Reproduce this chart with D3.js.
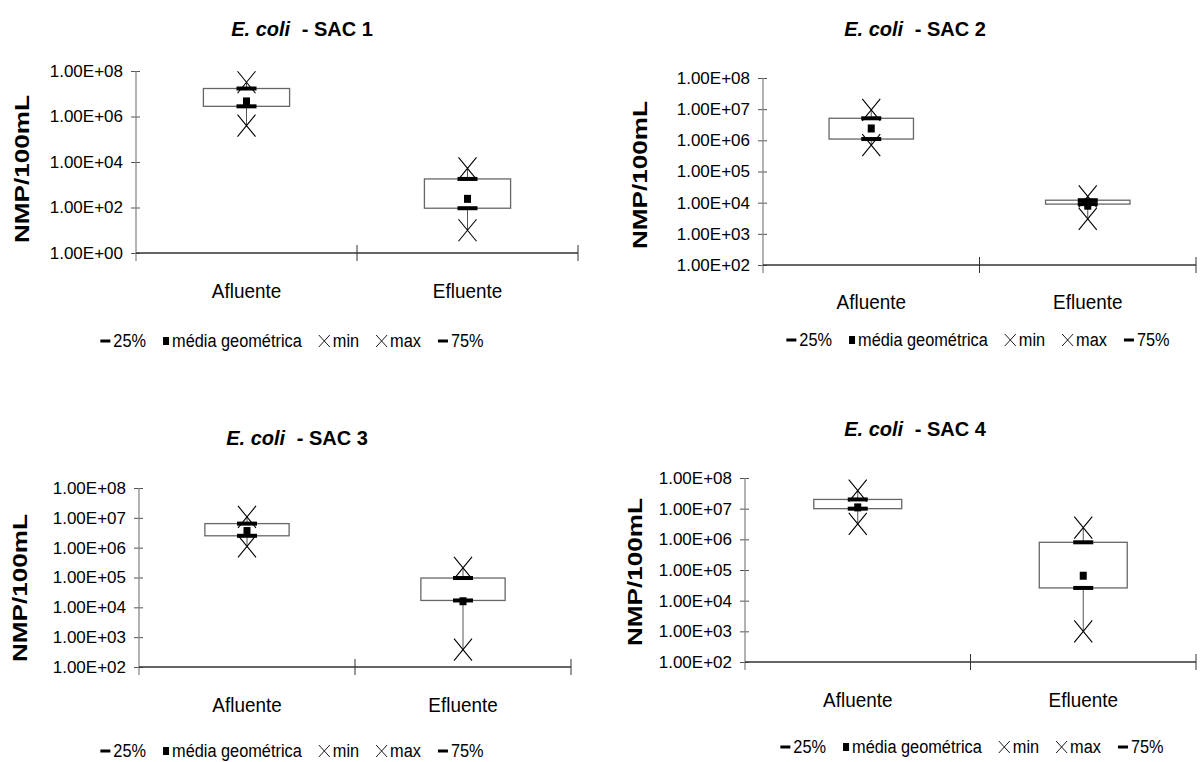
<!DOCTYPE html>
<html>
<head>
<meta charset="utf-8">
<script src="https://cdn.jsdelivr.net/npm/d3@7"></script>
<style>
  body { margin: 0; background: #fff; }
  svg { display: block; font-family: "Liberation Sans", Arial, sans-serif; }
</style>
</head>
<body>
<div id="chart"></div>
<script>
// data (NMP/100mL), one row per SAC, [Afluente, Efluente]
const categories = ['Afluente', 'Efluente'];
const sacNames = ['SAC 1', 'SAC 2', 'SAC 3', 'SAC 4'];
const q25     = [[2.8e6, 93],    [1.1e6, 9.0e3], [2.5e6, 1.7e4], [1.0e7, 2.6e4]];
const geoMean = [[4.6e6, 240],   [2.4e6, 8.0e3], [3.6e6, 1.6e4], [1.1e7, 6.5e4]];
const minVal  = [[4.0e5, 10],    [7.0e5, 3.0e3], [1.1e6, 380],   [3.2e6, 1.0e3]];
const maxVal  = [[3.2e7, 5.2e3], [9.5e6, 1.6e4], [1.07e7, 2.1e5], [3.9e7, 2.4e6]];
const q75     = [[1.7e7, 1.8e3], [5.1e6, 1.2e4], [6.4e6, 9.6e4], [2.0e7, 8.0e5]];
const yTicks = [
  [1, 1e2, 1e4, 1e6, 1e8],
  [1e2, 1e3, 1e4, 1e5, 1e6, 1e7, 1e8],
  [1e2, 1e3, 1e4, 1e5, 1e6, 1e7, 1e8],
  [1e2, 1e3, 1e4, 1e5, 1e6, 1e7, 1e8]
];
const legendLabels = ['25%', 'média geométrica', 'min', 'max', '75%'];
const legendKinds = ['dash', 'square', 'x', 'x', 'dash'];
const yTitle = 'NMP/100mL';

// where each little chart sits on the page
const panels = [
  {x0: 136, x1: 578, yTop: 71,  yBot: 253, titleX: 302, titleY: 36,  catY: 298, legX: 292, legY: 347, labX: 21,  labY: 169},
  {x0: 763, x1: 1196, yTop: 78, yBot: 265, titleX: 915, titleY: 36,  catY: 309, legX: 978, legY: 346, labX: 639, labY: 175},
  {x0: 139, x1: 571, yTop: 488, yBot: 667, titleX: 297, titleY: 445, catY: 712, legX: 292, legY: 757, labX: 19,  labY: 588},
  {x0: 745, x1: 1196, yTop: 478, yBot: 662, titleX: 915, titleY: 436, catY: 707, legX: 972, legY: 753, labX: 634, labY: 572}
];

const W = 1200, H = 762;
const svg = d3.select('#chart').append('svg')
  .attr('width', W).attr('height', H)
  .style('background', 'white');

const fmtSci = v => '1.00E+' + String(Math.round(Math.log10(v))).padStart(2, '0');

// text squeezed horizontally, like the narrow font of the original
function narrowText(g, x, y, str, size, sx, anchor) {
  return g.append('text')
    .attr('transform', `translate(${x},${y}) scale(${sx},1)`)
    .attr('text-anchor', anchor || 'middle')
    .style('font-size', size + 'px')
    .text(str);
}

function drawMarker(g, kind, cx, cy, big) {
  if (kind === 'dash') {
    const w = big ? 20 : 10, h = big ? 4 : 3;
    g.append('rect').attr('x', cx - w / 2).attr('y', cy - h / 2)
      .attr('width', w).attr('height', h).attr('fill', '#000');
  } else if (kind === 'square') {
    const w = big ? 7 : 6, h = big ? 8 : 8;
    g.append('rect').attr('x', cx - w / 2).attr('y', cy - h / 2)
      .attr('width', w).attr('height', h).attr('fill', '#000');
  } else {
    const hw = big ? 9 : 5.5, hh = big ? 11 : 6;
    g.append('path')
      .attr('d', `M${cx - hw},${cy - hh}L${cx + hw},${cy + hh}M${cx - hw},${cy + hh}L${cx + hw},${cy - hh}`)
      .attr('stroke', '#000').attr('stroke-width', big ? 1.1 : 0.9).attr('fill', 'none');
  }
}

panels.forEach((p, i) => {
  const g = svg.append('g').attr('class', 'panel');
  const ticks = yTicks[i];

  const y = d3.scaleLog().domain([ticks[0], ticks[ticks.length - 1]]).range([p.yBot, p.yTop]);
  const x = d3.scaleBand().domain(categories).range([p.x0, p.x1]);

  // title
  const t = g.append('text')
    .attr('x', p.titleX).attr('y', p.titleY)
    .attr('text-anchor', 'middle')
    .style('font-size', '20px').style('font-weight', 'bold');
  t.append('tspan').style('font-style', 'italic').text('E. coli');
  t.append('tspan').attr('dx', 6).text(' - ' + sacNames[i]);

  // y axis
  const yAxis = d3.axisLeft(y).tickValues(ticks).tickFormat(fmtSci).tickSize(5).tickPadding(8);
  const ya = g.append('g').attr('transform', `translate(${p.x0},0)`).call(yAxis);
  ya.select('.domain').remove();
  ya.selectAll('.tick line').attr('x1', 4).attr('stroke', '#555');
  ya.selectAll('.tick text')
    .style('font-size', '17px').style('font-family', '"Liberation Sans", Arial, sans-serif')
    .attr('fill', '#000');
  g.append('line')
    .attr('x1', p.x0).attr('x2', p.x0)
    .attr('y1', p.yTop).attr('y2', p.yBot + 8)
    .attr('stroke', '#808080').attr('stroke-width', 1.2);

  // x axis with category dividers
  g.append('line')
    .attr('x1', p.x0).attr('x2', p.x1)
    .attr('y1', p.yBot).attr('y2', p.yBot)
    .attr('stroke', '#333').attr('stroke-width', 1.3);
  const edges = categories.map(c => x(c)).concat([p.x1]);
  g.selectAll('line.divider').data(edges.slice(1)).join('line')
    .attr('class', 'divider')
    .attr('x1', d => d).attr('x2', d => d)
    .attr('y1', p.yBot - 8).attr('y2', p.yBot + 8)
    .attr('stroke', '#333').attr('stroke-width', 1);

  categories.forEach(c => {
    narrowText(g, x(c) + x.bandwidth() / 2, p.catY, c, 21, 0.9);
  });

  // y axis title
  g.append('text')
    .attr('transform', `translate(${p.labX},${p.labY}) rotate(-90)`)
    .attr('text-anchor', 'middle').attr('dominant-baseline', 'central')
    .attr('textLength', 148).attr('lengthAdjust', 'spacingAndGlyphs')
    .style('font-size', '21px').style('font-weight', 'bold')
    .text(yTitle);

  // boxes
  const boxW = x.bandwidth() * 0.39;
  categories.forEach((c, j) => {
    const cx = x(c) + x.bandwidth() / 2;
    g.append('line')
      .attr('x1', cx).attr('x2', cx)
      .attr('y1', y(minVal[i][j])).attr('y2', y(maxVal[i][j]))
      .attr('stroke', '#555').attr('stroke-width', 1);
    g.append('rect')
      .attr('x', cx - boxW / 2).attr('y', y(q75[i][j]))
      .attr('width', boxW).attr('height', y(q25[i][j]) - y(q75[i][j]))
      .attr('fill', '#fff').attr('stroke', '#666').attr('stroke-width', 1.3);
    drawMarker(g, 'dash', cx, y(q25[i][j]), true);
    drawMarker(g, 'square', cx, y(geoMean[i][j]), true);
    drawMarker(g, 'x', cx, y(minVal[i][j]), true);
    drawMarker(g, 'x', cx, y(maxVal[i][j]), true);
    drawMarker(g, 'dash', cx, y(q75[i][j]), true);
  });

  // legend
  const lg = g.append('g');
  let cur = 0;
  legendLabels.forEach((lab, k) => {
    const mw = legendKinds[k] === 'x' ? 11 : (legendKinds[k] === 'dash' ? 10 : 6);
    drawMarker(lg, legendKinds[k], cur + mw / 2, -6, false);
    cur += mw + 3;
    const tx = narrowText(lg, cur, 0, lab, 19, 0.86, 'start');
    cur += tx.node().getComputedTextLength() * 0.86;
    cur += 17;
  });
  cur -= 17;
  lg.attr('transform', `translate(${p.legX - cur / 2},${p.legY})`);
});
</script>
</body>
</html>
